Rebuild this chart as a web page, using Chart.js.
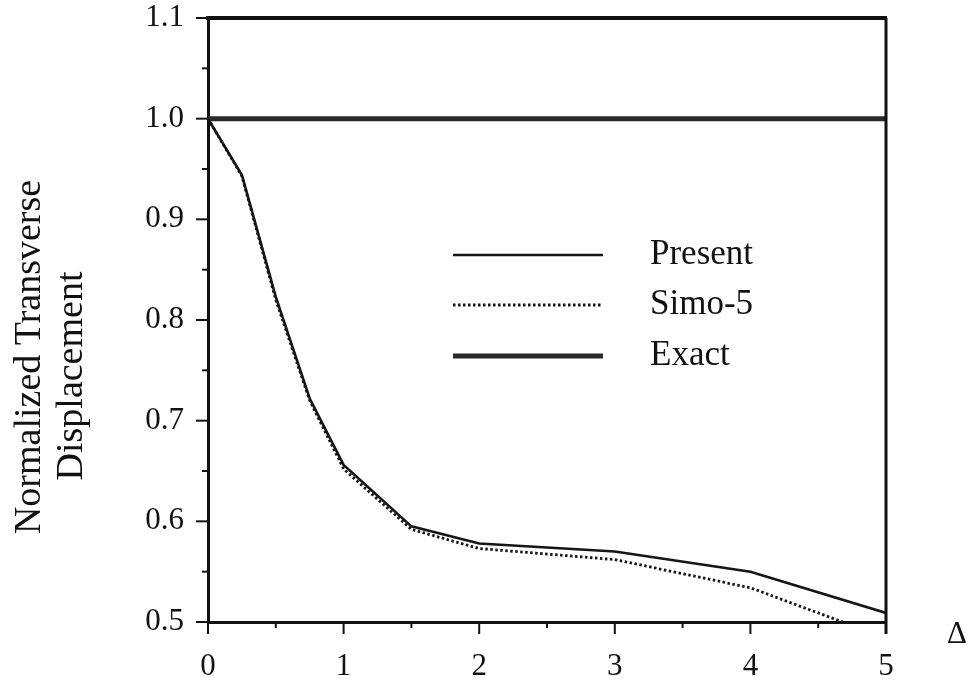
<!DOCTYPE html>
<html><head><meta charset="utf-8">
<script src="https://cdn.jsdelivr.net/npm/chart.js@4.4.1/dist/chart.umd.min.js"></script>
<style>html,body{margin:0;padding:0;background:#fff}#wrap{width:970px;height:684px;position:relative}</style>
</head><body><div id="wrap"><canvas id="c" width="970" height="684"></canvas></div>
<script>
// ---- data ----
const deltaValues   = [0, 0.25, 0.5, 0.75, 1, 1.5, 2, 3, 4, 5];
const presentValues = [1.0, 0.944, 0.823, 0.722, 0.656, 0.595, 0.578, 0.570, 0.550, 0.509];
const simoValues    = [1.0, 0.943, 0.820, 0.720, 0.652, 0.592, 0.573, 0.562, 0.534, 0.484];
const exactDelta    = [0, 5];
const exactValues   = [1.0, 1.0];
const xTickLabels   = ['0', '1', '2', '3', '4', '5'];
const yTickLabels   = ['0.5', '0.6', '0.7', '0.8', '0.9', '1.0', '1.1'];
const seriesNames   = ['Present', 'Simo-5', 'Exact'];
const yTitleLines   = ['Normalized Transverse', 'Displacement'];
const xTitle        = 'Δ';

const SERIF = '"Liberation Serif", "DejaVu Serif", serif';
const toPts = (xs, ys) => xs.map((x, i) => ({x: x, y: ys[i]}));

const framePlugin = {
  id: 'frame',
  afterDraw(chart) {
    const ctx = chart.ctx, xs = chart.scales.x, ys = chart.scales.y, a = chart.chartArea;
    ctx.save();
    ctx.strokeStyle = '#111';
    // top & right frame lines
    ctx.lineWidth = 4;
    ctx.beginPath(); ctx.moveTo(a.left - 2, ys.getPixelForValue(1.1)); ctx.lineTo(a.right + 1, ys.getPixelForValue(1.1)); ctx.stroke();
    ctx.lineWidth = 3;
    ctx.beginPath(); ctx.moveTo(a.right, a.top); ctx.lineTo(a.right, a.bottom + 12); ctx.stroke();
    // y tick marks
    ctx.lineWidth = 2;
    ys.ticks.forEach(t => {
      const p = ys.getPixelForValue(t.value);
      const major = Math.round(t.value * 100) % 10 === 0;
      ctx.beginPath(); ctx.moveTo(a.left, p); ctx.lineTo(a.left - (major ? 12 : 6), p); ctx.stroke();
    });
    // x tick marks
    xs.ticks.forEach(t => {
      const p = xs.getPixelForValue(t.value);
      const major = Math.abs(t.value - Math.round(t.value)) < 1e-6;
      ctx.beginPath(); ctx.moveTo(p, a.bottom); ctx.lineTo(p, a.bottom + (major ? 12 : 6)); ctx.stroke();
    });
    // y title (two lines, rotated)
    ctx.fillStyle = '#111';
    ctx.font = '38px ' + SERIF;
    ctx.textAlign = 'center';
    ctx.textBaseline = 'alphabetic';
    const titlePos = [[40, 357], [82, 376]];
    yTitleLines.forEach((s, i) => {
      ctx.save(); ctx.translate(titlePos[i][0], titlePos[i][1]); ctx.rotate(-Math.PI / 2);
      ctx.fillText(s, 0, 0); ctx.restore();
    });
    // x title
    ctx.font = '31px ' + SERIF;
    ctx.textBaseline = 'alphabetic';
    ctx.fillText(xTitle, 957, 643);
    // legend built from datasets
    const rows = [255, 305, 356];
    chart.data.datasets.forEach((d, i) => {
      ctx.save();
      ctx.strokeStyle = d.borderColor; ctx.lineWidth = d.borderWidth;
      ctx.setLineDash(d.borderDash || []);
      ctx.beginPath(); ctx.moveTo(453, rows[i]); ctx.lineTo(603, rows[i]); ctx.stroke();
      ctx.restore();
      ctx.font = '35px ' + SERIF; ctx.textAlign = 'left'; ctx.textBaseline = 'alphabetic';
      ctx.fillText(d.label, 650, rows[i] + 9);
    });
    ctx.restore();
  }
};

new Chart(document.getElementById('c'), {
  type: 'line',
  data: {
    datasets: [
      {label: seriesNames[0], data: toPts(deltaValues, presentValues), borderColor: '#151515', borderWidth: 2.6, pointRadius: 0, tension: 0, fill: false},
      {label: seriesNames[1], data: toPts(deltaValues, simoValues), borderColor: '#151515', borderWidth: 2.8, borderDash: [2.5, 2.5], pointRadius: 0, tension: 0, fill: false},
      {label: seriesNames[2], data: toPts(exactDelta, exactValues), borderColor: '#2a2a2a', borderWidth: 5, pointRadius: 0, tension: 0, fill: false}
    ]
  },
  options: {
    responsive: false,
    animation: false,
    events: [],
    layout: {padding: {top: 18, right: 84, left: 0, bottom: 0}},
    plugins: {legend: {display: false}, tooltip: {enabled: false}},
    scales: {
      x: {
        type: 'linear', min: 0, max: 5,
        grid: {display: false, drawTicks: false},
        border: {display: true, color: '#111', width: 3},
        ticks: {
          stepSize: 0.5, color: '#111', padding: 26, maxRotation: 0, autoSkip: false,
          font: {family: SERIF, size: 31},
          callback: v => { const i = Math.round(v); return Math.abs(v - i) < 1e-6 ? xTickLabels[i] : ''; }
        },
        afterFit: s => { s.height = 62; s.paddingLeft = 0; s.paddingRight = 0; }
      },
      y: {
        type: 'linear', min: 0.5, max: 1.1,
        grid: {display: false, drawTicks: false},
        border: {display: true, color: '#111', width: 3},
        ticks: {
          stepSize: 0.05, color: '#111', padding: 24, autoSkip: false,
          font: {family: SERIF, size: 31},
          callback: v => { const k = Math.round(v * 100); return k % 10 === 0 ? yTickLabels[(k - 50) / 10] : ''; }
        },
        afterFit: s => { s.width = 208; s.paddingTop = 0; s.paddingBottom = 0; }
      }
    }
  },
  plugins: [framePlugin]
});
</script>
</body></html>
